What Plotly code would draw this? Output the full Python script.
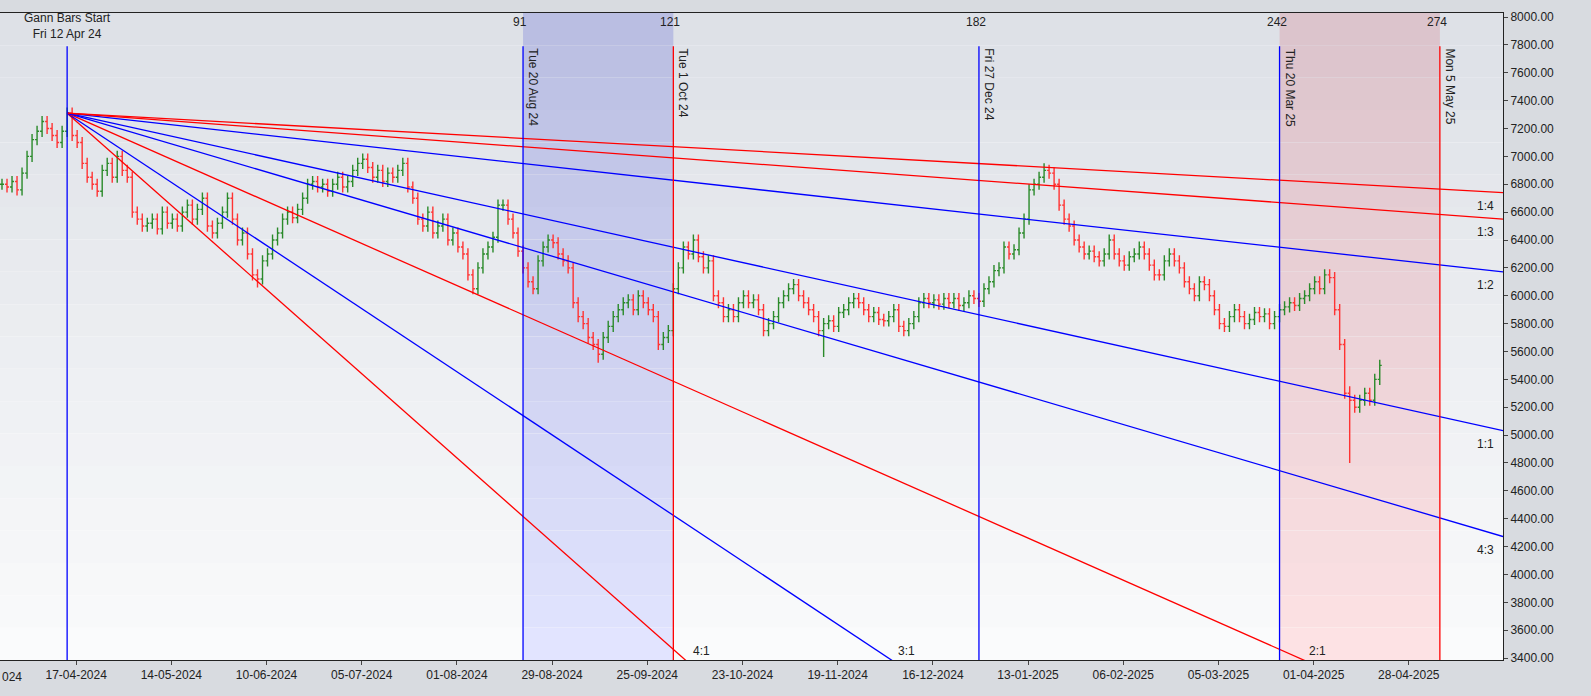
import plotly.graph_objects as go

# ---- data ----
start_bar = -13
closes = [
 6800,6780,6820,6760,6880,7000,7120,7180,7250,7200,
 7150,7100,7180,7310,7150,7100,6950,6850,6800,6750,
 6900,6950,6850,7000,6900,6850,6600,6550,6500,6520,
 6550,6480,6600,6520,6550,6500,6600,6650,6550,6620,
 6700,6500,6450,6520,6600,6700,6550,6400,6450,6300,
 6150,6120,6250,6300,6400,6450,6550,6600,6560,6620,
 6700,6800,6820,6780,6800,6750,6800,6850,6780,6820,
 6900,6950,6980,6920,6850,6900,6820,6880,6850,6900,
 6950,6780,6700,6550,6500,6600,6450,6500,6550,6400,
 6450,6350,6300,6150,6050,6200,6300,6350,6420,6650,
 6650,6550,6450,6320,6200,6100,6050,6250,6350,6400,
 6380,6300,6250,6200,5950,5850,5800,5700,5650,5580,
 5700,5780,5850,5900,5950,5970,5900,6000,5950,5900,
 5850,5650,5700,5750,6050,6200,6350,6300,6400,6280,
 6200,6250,6000,5950,5850,5900,5850,5950,6000,5950,
 5970,5900,5750,5800,5850,5950,6000,6050,6080,6000,
 5950,5900,5850,5750,5800,5820,5780,5880,5900,5950,
 5980,5950,5900,5850,5880,5830,5820,5850,5900,5780,
 5750,5800,5850,5950,5980,5950,5970,5940,5980,5950,
 5980,5930,5950,6000,5980,5960,6050,6100,6180,6200,
 6350,6300,6330,6450,6550,6760,6800,6850,6900,6880,
 6800,6650,6550,6500,6400,6350,6300,6320,6280,6250,
 6300,6400,6300,6250,6220,6280,6300,6350,6300,6220,
 6150,6150,6250,6300,6250,6200,6100,6050,6000,6100,
 6080,6000,5900,5800,5780,5850,5900,5850,5800,5830,
 5880,5850,5870,5800,5850,5900,5920,5950,5930,5980,
 6000,6050,6100,6050,6150,6130,5900,5650,5300,5250,
 5200,5250,5300,5250,5400,5500,
]
wick_overrides = {38: (None, 6060), 106: (None, 5520), 151: (None, 5560), 256: (5350, 4800), 195: (6950, None)}
gann_start_price = 7310
gann_unit = 7.95
gann_ratios = [("4:1", 4, "red"), ("3:1", 3, "blue"), ("2:1", 2, "red"), ("4:3", 4/3, "blue"),
               ("1:1", 1, "blue"), ("1:2", 0.5, "blue"), ("1:3", 1/3, "red"), ("1:4", 0.25, "red")]
gann_bars = [0, 91, 121, 182, 242, 274]
gann_colors = ["blue", "blue", "red", "blue", "blue", "red"]
gann_dates = ["", "Tue 20 Aug 24", "Tue 1 Oct 24", "Fri 27 Dec 24", "Thu 20 Mar 25", "Mon 5 May 25"]
date_labels = ["17-04-2024", "14-05-2024", "10-06-2024", "05-07-2024", "01-08-2024", "29-08-2024",
               "25-09-2024", "23-10-2024", "19-11-2024", "16-12-2024", "13-01-2025", "06-02-2025",
               "05-03-2025", "01-04-2025", "28-04-2025"]
cut_label = "024"

X0, X1 = -13.4, 286.6
Y0, Y1 = 3386, 8029

xs = list(range(start_bar, start_bar + len(closes)))
opens = [closes[0]] + closes[:-1]
highs, lows = [], []
for i, (o, c) in enumerate(zip(opens, closes)):
    h, l = max(o, c) + 40, min(o, c) - 40
    ov = wick_overrides.get(xs[i])
    if ov:
        if ov[0]: h = ov[0]
        if ov[1]: l = ov[1]
    highs.append(h); lows.append(l)

fig = go.Figure()
shapes = []
def lerp(a, b, t): return tuple(int(a[k] + (b[k] - a[k]) * t) for k in range(3))
N = 20
for k in range(N):
    t = k / (N - 1)
    ya = Y1 - (Y1 - Y0) * k / N
    yb = Y1 - (Y1 - Y0) * (k + 1) / N
    for (xa, xb, ct, cb) in [(X0, X1, (222, 225, 231), (250, 251, 252)),
                             (91, 121, (186, 190, 226), (226, 228, 255)),
                             (242, 274, (220, 196, 204), (253, 226, 228))]:
        col = lerp(ct, cb, t)
        shapes.append(dict(type="rect", xref="x", yref="y", x0=xa, x1=xb, y0=yb, y1=ya,
                           fillcolor="rgb(%d,%d,%d)" % col, line_width=0, layer="below"))
for b, c in zip(gann_bars, gann_colors):
    shapes.append(dict(type="line", xref="x", yref="y", x0=b, x1=b, y0=Y0, y1=7790,
                       line=dict(color=c, width=1.3)))
fig.update_layout(shapes=shapes)

for name, r, c in gann_ratios:
    fig.add_trace(go.Scatter(x=[0, X1], y=[gann_start_price, gann_start_price - r * gann_unit * X1],
                             mode="lines", line=dict(color=c, width=1.3), hoverinfo="skip", showlegend=False))

fig.add_trace(go.Ohlc(x=xs, open=opens, high=highs, low=lows, close=closes, tickwidth=0.4,
                      increasing=dict(line=dict(color="#2a8a2a", width=1.4)),
                      decreasing=dict(line=dict(color="#ff3333", width=1.4)), showlegend=False))

ann = []
font = dict(family="Liberation Sans, Arial", size=12, color="#222")
for b, d in zip(gann_bars[1:], gann_dates[1:]):
    ann.append(dict(x=b, y=1.0, xref="x", yref="paper", text=str(b), showarrow=False,
                    yanchor="bottom", yshift=-18, xshift=-3, font=font))
    ann.append(dict(x=b, y=7790, xref="x", yref="y", text=d, showarrow=False, textangle=90,
                    xanchor="left", yanchor="top", xshift=1, font=font))
ann.append(dict(x=0, y=1.0, xref="x", yref="paper", text="Gann Bars Start<br>Fri 12 Apr 24",
                showarrow=False, yanchor="top", yshift=4, font=font))
ann.append(dict(x=0, y=0, xref="paper", yref="paper", text=cut_label, showarrow=False,
                xanchor="left", yanchor="top", yshift=-8, font=font))
for name, r, c in gann_ratios:
    yend = gann_start_price - r * gann_unit * X1
    if yend > Y0:
        ann.append(dict(x=X1, y=yend, xref="x", yref="y", text=name, showarrow=False,
                        xanchor="right", yanchor="top", xshift=-7, yshift=-4, font=font))
    else:
        xb = (gann_start_price - 3400) / (r * gann_unit)
        ann.append(dict(x=xb, y=Y0, xref="x", yref="y", text=name, showarrow=False,
                        xanchor="left", yanchor="bottom", xshift=8, font=font))
fig.update_layout(annotations=ann)

tickvals = [1.8 + 19 * k for k in range(len(date_labels))]
yt = list(range(3400, 8001, 200))
fig.update_layout(
    width=1591, height=696, margin=dict(l=0, r=88, t=13, b=36, autoexpand=False),
    paper_bgcolor="#d8dbe0", plot_bgcolor="#ffffff", font=font,
    xaxis=dict(range=[X0, X1], tickvals=tickvals, ticktext=date_labels, ticks="outside", ticklen=4,
               showgrid=False, zeroline=False, showline=True, linecolor="#222", mirror=True,
               rangeslider=dict(visible=False), automargin=False),
    yaxis=dict(range=[Y0, Y1], side="right", tickvals=yt, ticktext=["%.2f" % v for v in yt],
               ticks="outside", ticklen=4, showgrid=False, zeroline=False, showline=True,
               linecolor="#222", mirror=True, automargin=False),
)
fig.write_html("out.html", config={"displayModeBar": False},
               post_script="document.body.style.margin='0';document.body.style.overflow='hidden';")
